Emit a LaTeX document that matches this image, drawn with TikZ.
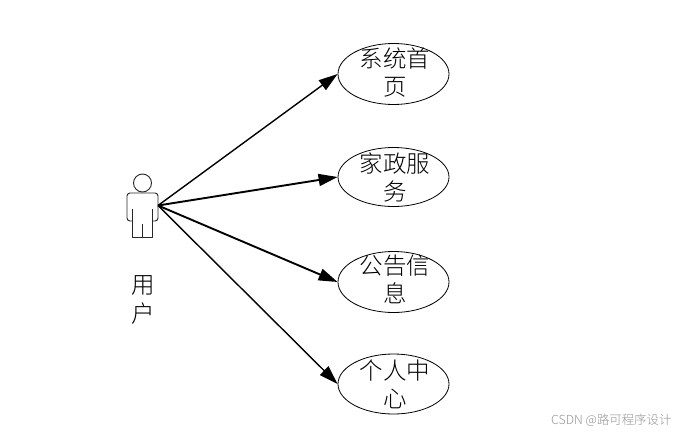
\documentclass[tikz,border=0pt]{standalone}
\usepackage{fontspec}
\setmainfont{Liberation Sans}
\newfontfamily\cjk{Noto Sans CJK SC Light}[BoldFont={Noto Sans CJK SC}]
\usetikzlibrary{shapes.geometric,arrows.meta}
\tikzset{
  x=1pt,y=-1pt,
  usecase/.style={draw=black,line width=0.8pt,ellipse,inner sep=0pt,minimum width=111pt,minimum height=61pt,fill=white},
  casetext/.style={font=\cjk\fontsize{23.5}{28}\selectfont,align=center,inner sep=0pt,text=black},
  actortext/.style={font=\cjk\fontsize{23.5}{29}\selectfont,align=center,inner sep=0pt,text=black},
  assoc/.style={draw=black,line width=1.4pt,-{Triangle[length=19pt,width=12pt]}},
  assocheavy/.style={assoc,line width=1.9pt},
  actorline/.style={draw=black!85,line width=0.9pt,line join=round},
  mark text/.style={font=\cjk\fontsize{12.4}{14}\selectfont,text=black!42,inner sep=0pt}
}
\begin{document}
\begin{tikzpicture}
\useasboundingbox (0,0) rectangle (680,434);
% use cases
\node[usecase] (e1) at (393.5,74) {};
\node[usecase,minimum height=59pt] (e2) at (393.5,177) {};
\node[usecase] (e3) at (393.5,282) {};
\node[usecase,minimum height=60pt] (e4) at (393.5,384) {};
\node[casetext] (t1) at (395,73) {系统首\\页};
\node[casetext] (t2) at (395,177.5) {家政服\\务};
\node[casetext] (t3) at (395,279) {公告信\\息};
\node[casetext] (t4) at (395,384) {个人中\\心};
% actor
\node[draw=black!85,line width=0.9pt,circle,minimum size=18pt,inner sep=0pt] (head) at (142.5,183) {};
\coordinate (hand) at (158,205.5);
\draw[actorline,rounded corners=3pt] (132,221) -- (127,221) -- (127,193) -- (158,193) -- (158,221) -- (152,221);
\draw[actorline] (132,209) -- (132,237.5) -- (152,237.5) -- (152,209);
\draw[actorline] (142,224) -- (142,237.5);
\node[actortext] (user) at (143,300) {用\\户};
% connectors
\draw[assoc] (hand) -- (e1.west);
\draw[assocheavy] (hand) -- (e2.west);
\draw[assocheavy] (hand) -- (e3.west);
\draw[assoc] (hand) -- (e4.west);
% watermark
\node[mark text,anchor=west] (wm) at (551,420) {CSDN @路可程序设计};
\end{tikzpicture}
\end{document}
